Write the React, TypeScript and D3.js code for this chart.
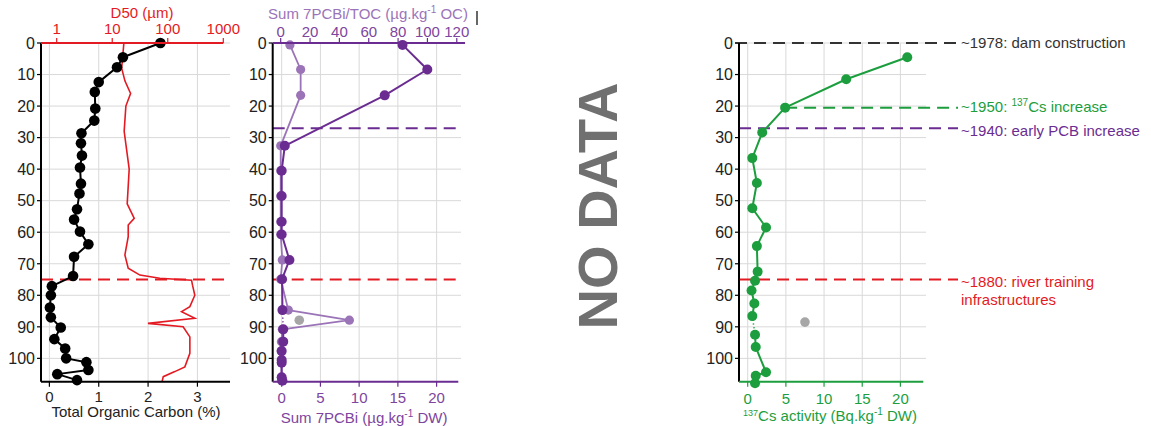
import * as d3 from 'd3';

// ---- data ----
const DEPTH_TICKS = [0, 10, 20, 30, 40, 50, 60, 70, 80, 90, 100];

// Panel 1: total organic carbon (%) and D50 (µm)
const TOC_DEPTH = [0, 4.5, 7.7, 12.4, 15.5, 20.8, 24.6, 28.6, 31.8, 35.7, 39.5, 44.6, 47.7, 52.7, 56.0, 59.8, 63.8, 67.8, 73.9, 77.1, 80.0, 83.9, 87.0, 90.2, 93.9, 96.9, 100.0, 101.2, 103.7, 105.0, 106.9];
const TOC = [2.25, 1.49, 1.37, 1.0, 0.92, 0.93, 0.91, 0.65, 0.64, 0.66, 0.62, 0.64, 0.61, 0.56, 0.5, 0.62, 0.79, 0.5, 0.48, 0.05, 0.03, 0.01, 0.03, 0.23, 0.1, 0.32, 0.34, 0.75, 0.79, 0.16, 0.56];
const TOC_TICKS = [0, 1, 2, 3];

const D50_DEPTH = [0, 8, 12, 16, 20, 28, 40, 51, 55.6, 57.7, 61.4, 67.2, 71.4, 73.6, 74.6, 75.2, 76.8, 80, 83.6, 85.2, 87.3, 88.9, 90, 93.2, 98.4, 102.7, 104.2, 105.8, 107.4];
const D50 = [16.2, 14.8, 16.9, 21.4, 17.6, 16.4, 20.2, 18.6, 24.9, 19.4, 19.4, 16.9, 19.4, 31.5, 72, 268, 279, 307, 250, 177, 307, 44, 189, 250, 250, 203, 134, 83, 79];
const D50_TICKS = [1, 10, 100, 1000];

// Panel 2: PCBs
const PCB_DEPTH = [0.6, 8.4, 16.6, 32.6, 40.5, 48.5, 56.7, 60.7, 68.8, 74.9, 84.7, 87.9, 90.8, 94.7, 97.7, 100.5, 101.4, 106, 107.1];
const PCB_DW = [15.6, 18.8, 13.3, 0.4, 0, 0, 0, 0, 1.0, 0.05, 0.1, null, 0.2, 0.2, 0, 0, 0, 0, 0.1];
const PCB_TOC = [6.3, 13.6, 13.6, 0, 0, 0, 0, 0, 1.1, 0, 5.2, 46.8, 1.1, 0.5, 0.3, 0.5, 0.5, 0.5, 0.5];
const PCB_OUT_DEPTH = [87.9];
const PCB_OUT = [2.27];
const PCB_DW_TICKS = [0, 5, 10, 15, 20];
const PCB_TOC_TICKS = [0, 20, 40, 60, 80, 100, 120];

// Panel 3: 137Cs
const CS_DEPTH = [4.5, 11.5, 20.5, 28.4, 36.5, 44.4, 52.4, 58.5, 64.4, 72.5, 75.4, 78.5, 82.6, 86.6, 88.5, 92.5, 96.4, 104.4, 105.5, 107.9];
const CS = [20.9, 12.9, 4.9, 1.9, 0.6, 1.2, 0.6, 2.4, 1.2, 1.3, 0.96, 0.5, 0.87, 0.6, null, 0.96, 1.05, 2.4, 1.05, 0.96];
const CS_OUT_DEPTH = [88.5];
const CS_OUT = [7.5];
const CS_TICKS = [0, 5, 10, 15, 20];

// event markers (depth, cm)
const EVT_DAM = 0;
const EVT_CS = 20.5;
const EVT_PCB = 27;
const EVT_RIVER = 75;

// ---- styling ----
const FONT = "'Liberation Sans', Arial, Helvetica, sans-serif";
const RED = '#e41a22';
const PURPLE = '#6b2c91';
const LILAC = '#9b74b8';
const PURPLE_TXT = '#7d459e';
const GREEN = '#1c9e3e';
const GREY = '#a6a6a6';
const GRID = '#d9d9d9';
const DASH = '12 7';

const y = d3.scaleLinear().domain([0, 107.4]).range([43, 381.7]);
const Y0 = y(0);
const YB = y(107.4);

type Pt = [number, number | null];
const zip = (a: number[], b: (number | null)[]): Pt[] => a.map((d, i) => [d, b[i]]);

function YAxis({ x0, x1 }: { x0: number; x1: number }) {
  return (
    <g>
      {DEPTH_TICKS.map((t) => (
        <g key={t}>
          <line x1={x0} x2={x1} y1={y(t)} y2={y(t)} stroke={GRID} strokeWidth={1} />
          <line x1={x0 - 4} x2={x0} y1={y(t)} y2={y(t)} stroke="#000" strokeWidth={1.2} />
          <text x={x0 - 6} y={y(t)} dy="0.36em" textAnchor="end" fontSize={16} fill="#222">{t}</text>
        </g>
      ))}
    </g>
  );
}

function Series({ data, x, color, r, width }: { data: Pt[]; x: (v: number) => number; color: string; r: number; width: number }) {
  const line = d3.line<Pt>().defined((d) => d[1] != null).x((d) => x(d[1] as number)).y((d) => y(d[0]));
  const gaps: [Pt, Pt][] = [];
  data.forEach((d, i) => {
    if (d[1] == null && i > 0 && i < data.length - 1) gaps.push([data[i - 1], data[i + 1]]);
  });
  return (
    <g>
      <path d={line(data) ?? ''} fill="none" stroke={color} strokeWidth={width} strokeLinejoin="round" />
      {gaps.map((g, i) => (
        <line key={i} x1={x(g[0][1] as number)} y1={y(g[0][0])} x2={x(g[1][1] as number)} y2={y(g[1][0])}
          stroke={color} strokeWidth={1.5} strokeDasharray="1.2 2.5" />
      ))}
      {data.filter((d) => d[1] != null).map((d, i) => (
        <circle key={i} cx={x(d[1] as number)} cy={y(d[0])} r={r} fill={color} />
      ))}
    </g>
  );
}

export default function App() {
  // panel 1
  const p1 = { l: 41, r: 230 };
  const xToc = d3.scaleLinear().domain([-0.17, 3.66]).range([p1.l, p1.r]);
  const xD50 = d3.scaleLog().domain([1, 1000]).range([56.7, 223.3]);
  const d50Line = d3.line<number>().x((_, i) => xD50(D50[i])).y((d) => y(d));

  // panel 2
  const p2 = { l: 272.7, r: 458.3 };
  const xDw = d3.scaleLinear().domain([-1.16, 22.8]).range([p2.l, p2.r]);
  const xPt = d3.scaleLinear().domain([-5.45, 125.6]).range([p2.l, 465]);

  // panel 3
  const p3 = { l: 739, r: 923.3 };
  const xCs = d3.scaleLinear().domain([-1.14, 23]).range([p3.l, p3.r]);
  const labelX = 961;

  return (
    <svg width={1151} height={426} style={{ position: 'absolute', left: 0, top: 0, background: '#fff' }} fontFamily={FONT}>
      {/* ===== Panel 1 ===== */}
      <YAxis x0={p1.l} x1={p1.r} />
      {TOC_TICKS.map((t) => (
        <g key={t}>
          <line x1={xToc(t)} x2={xToc(t)} y1={Y0} y2={YB} stroke={GRID} />
          <line x1={xToc(t)} x2={xToc(t)} y1={YB} y2={YB + 5} stroke="#000" strokeWidth={1.2} />
          <text x={xToc(t)} y={397} dy="0.36em" textAnchor="middle" fontSize={15} fill="#222">{t}</text>
        </g>
      ))}
      <line x1={p1.l} x2={p1.r} y1={y(EVT_RIVER)} y2={y(EVT_RIVER)} stroke={RED} strokeWidth={2} strokeDasharray={DASH} />
      <path d={d50Line(D50_DEPTH) ?? ''} fill="none" stroke={RED} strokeWidth={1.6} />
      <Series data={zip(TOC_DEPTH, TOC)} x={xToc} color="#000" r={5.3} width={2} />
      <line x1={p1.l} x2={p1.l} y1={Y0} y2={YB} stroke="#000" strokeWidth={2} />
      <line x1={p1.l} x2={p1.r} y1={YB} y2={YB} stroke="#000" strokeWidth={2} />
      <line x1={p1.l} x2={223.3} y1={Y0} y2={Y0} stroke={RED} strokeWidth={1.8} />
      {D50_TICKS.map((t) => (
        <g key={t}>
          <line x1={xD50(t)} x2={xD50(t)} y1={Y0} y2={Y0 - 5} stroke={RED} strokeWidth={1.2} />
          <text x={xD50(t)} y={29} dy="0.36em" textAnchor="middle" fontSize={15} fill={RED}>{t}</text>
        </g>
      ))}
      <text x={142} y={13} dy="0.36em" textAnchor="middle" fontSize={15} fill={RED}>D50 (µm)</text>
      <text x={136} y={412} dy="0.36em" textAnchor="middle" fontSize={15} fill="#222">Total Organic Carbon (%)</text>

      {/* ===== Panel 2 ===== */}
      <YAxis x0={p2.l} x1={461} />
      {PCB_DW_TICKS.map((t) => (
        <g key={t}>
          <line x1={xDw(t)} x2={xDw(t)} y1={Y0} y2={YB} stroke={GRID} />
          <line x1={xDw(t)} x2={xDw(t)} y1={YB} y2={YB + 5} stroke={PURPLE} strokeWidth={1.2} />
          <text x={xDw(t)} y={398} dy="0.36em" textAnchor="middle" fontSize={15} fill={PURPLE_TXT}>{t}</text>
        </g>
      ))}
      <line x1={p2.l} x2={460} y1={y(EVT_PCB)} y2={y(EVT_PCB)} stroke={PURPLE} strokeWidth={2} strokeDasharray={DASH} />
      <line x1={p2.l} x2={460} y1={y(EVT_RIVER)} y2={y(EVT_RIVER)} stroke={RED} strokeWidth={2} strokeDasharray={DASH} />
      <Series data={zip(PCB_DEPTH, PCB_TOC)} x={xPt} color={LILAC} r={4.6} width={1.8} />
      <Series data={zip(PCB_DEPTH, PCB_DW)} x={xDw} color={PURPLE} r={5} width={2} />
      {PCB_OUT.map((v, i) => (
        <circle key={i} cx={xDw(v)} cy={y(PCB_OUT_DEPTH[i])} r={4.8} fill={GREY} />
      ))}
      <line x1={p2.l} x2={p2.l} y1={Y0} y2={YB} stroke="#000" strokeWidth={2} />
      <line x1={p2.l} x2={p2.r} y1={YB} y2={YB} stroke={PURPLE} strokeWidth={2} />
      <line x1={p2.l} x2={465} y1={Y0} y2={Y0} stroke={PURPLE} strokeWidth={2} />
      {PCB_TOC_TICKS.map((t) => (
        <g key={t}>
          <line x1={xPt(t)} x2={xPt(t)} y1={Y0} y2={Y0 - 5} stroke={PURPLE} strokeWidth={1.2} />
          <text x={xPt(t)} y={32} dy="0.36em" textAnchor="middle" fontSize={15} fill={PURPLE_TXT}>{t}</text>
        </g>
      ))}
      <text x={368} y={19.4} textAnchor="middle" fontSize={15} fill={LILAC}>
        Sum 7PCBi/TOC (µg.kg<tspan dy={-6} fontSize={10}>-1</tspan><tspan dy={6}> OC)</tspan>
      </text>
      <line x1={477} x2={477} y1={11} y2={25} stroke="#000" strokeWidth={1.2} />
      <text x={364} y={423.4} textAnchor="middle" fontSize={15} fill={PURPLE_TXT}>
        Sum 7PCBi (µg.kg<tspan dy={-6} fontSize={10}>-1</tspan><tspan dy={6}> DW)</tspan>
      </text>

      {/* ===== NO DATA ===== */}
      <text transform="translate(597,206) rotate(-90)" textAnchor="middle" dy="0.36em" fontSize={56} fontWeight="bold" fill="#707070">NO DATA</text>

      {/* ===== Panel 3 ===== */}
      <YAxis x0={p3.l} x1={926} />
      {CS_TICKS.map((t) => (
        <g key={t}>
          <line x1={xCs(t)} x2={xCs(t)} y1={Y0} y2={YB} stroke={GRID} />
          <line x1={xCs(t)} x2={xCs(t)} y1={YB} y2={YB + 5} stroke={GREEN} strokeWidth={1.2} />
          <text x={xCs(t)} y={399} dy="0.36em" textAnchor="middle" fontSize={15} fill={GREEN}>{t}</text>
        </g>
      ))}
      <line x1={735} x2={957} y1={y(EVT_DAM)} y2={y(EVT_DAM)} stroke="#333" strokeWidth={2} strokeDasharray={DASH} />
      <line x1={xCs(CS[2] as number)} x2={958} y1={y(EVT_CS)} y2={y(EVT_CS)} stroke={GREEN} strokeWidth={2} strokeDasharray={DASH} />
      <line x1={p3.l} x2={958} y1={y(EVT_PCB)} y2={y(EVT_PCB)} stroke={PURPLE} strokeWidth={2} strokeDasharray={DASH} />
      <line x1={p3.l} x2={958} y1={y(EVT_RIVER)} y2={y(EVT_RIVER)} stroke={RED} strokeWidth={2} strokeDasharray={DASH} />
      <Series data={zip(CS_DEPTH, CS)} x={xCs} color={GREEN} r={5} width={2} />
      {CS_OUT.map((v, i) => (
        <circle key={i} cx={xCs(v)} cy={y(CS_OUT_DEPTH[i])} r={4.8} fill={GREY} />
      ))}
      <line x1={p3.l} x2={p3.l} y1={Y0} y2={YB} stroke="#000" strokeWidth={2} />
      <line x1={p3.l} x2={p3.r} y1={YB} y2={YB} stroke={GREEN} strokeWidth={2} />
      <text x={830} y={421.4} textAnchor="middle" fontSize={15} fill={GREEN}>
        <tspan dy={-5} fontSize={9}>137</tspan><tspan dy={5}>Cs activity (Bq.kg</tspan><tspan dy={-6} fontSize={10}>-1</tspan><tspan dy={6}> DW)</tspan>
      </text>

      {/* event labels */}
      <text x={labelX} y={y(EVT_DAM)} dy="0.36em" fontSize={15} fill="#333">~1978: dam construction</text>
      <text x={labelX} y={111.9} fontSize={15} fill={GREEN}>
        ~1950: <tspan dy={-6} fontSize={10}>137</tspan><tspan dy={6}>Cs increase</tspan>
      </text>
      <text x={labelX} y={131} dy="0.36em" fontSize={15} fill={PURPLE}>~1940: early PCB increase</text>
      <text x={labelX} y={282} dy="0.36em" fontSize={15} fill={RED}>~1880: river training</text>
      <text x={labelX} y={300} dy="0.36em" fontSize={15} fill={RED}>infrastructures</text>
    </svg>
  );
}
